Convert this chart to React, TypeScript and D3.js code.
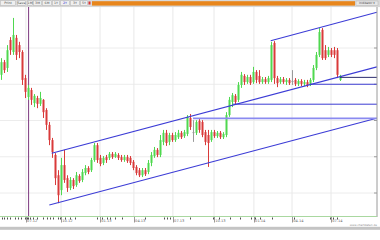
import React from 'react';
import * as d3 from 'd3';

const W = 380;
const H = 240;

// weekly candles (price units)
const open = [52.6,56.1,54.5,62.2,58.9,62.8,60.8,58.9,51.7,46.5,48.4,44.8,46.2,44.6,45.7,42.9,38.8,34.6,30.5,24.9,20.8,27.7,24.1,21.4,23.6,22.2,24.7,23.6,25.5,26.9,26.3,29.1,33.2,29.7,28.3,29.9,29.7,30.8,29.9,30.5,29.9,29.1,29.9,29.7,28.6,27.2,26.3,24.9,26.3,25.8,28.3,30.2,31.9,30.5,34.1,36.6,34.1,36.0,34.6,35.4,36.6,35.7,36.3,40.7,36.8,36.6,39.9,39.6,36.8,36.0,34.6,36.8,35.7,36.6,35.4,36.0,41.5,45.1,46.8,45.7,49.8,52.3,50.6,52.0,50.6,53.4,52.3,50.6,51.4,50.6,51.2,61.4,51.7,50.6,51.4,50.6,51.2,50.9,51.2,50.1,50.9,50.1,50.6,49.8,51.2,54.5,58.1,65.0,59.4,58.1,59.4,59.4,59.4,51.2];
const high = [57.2,56.7,60.8,63.0,68.3,63.6,61.7,59.4,52.6,49.8,49.0,47.3,46.8,47.9,45.9,43.4,39.6,35.2,31.0,26.3,29.7,31.9,24.9,24.4,24.1,25.8,25.2,26.6,27.7,27.4,29.7,33.8,33.8,30.5,30.2,30.5,31.3,31.3,31.3,31.0,30.5,30.5,30.5,30.2,29.1,27.7,26.9,26.9,26.9,29.1,31.3,32.7,32.4,36.0,37.4,37.4,36.6,36.6,36.8,37.4,37.1,37.4,41.5,41.8,40.1,40.1,40.4,40.1,37.4,37.4,37.4,37.4,37.1,37.1,36.8,42.3,46.5,47.6,47.3,50.6,53.4,52.8,52.6,52.6,54.8,53.9,53.9,52.0,52.0,52.3,61.7,61.9,52.3,52.0,52.0,51.7,51.7,53.9,51.7,51.4,51.4,51.2,51.2,51.7,55.3,58.9,65.5,65.5,60.8,60.3,60.0,60.3,60.0,52.6];
const low = [51.2,53.1,53.4,58.1,58.1,56.7,57.2,49.8,46.2,45.7,44.3,43.7,43.4,44.0,40.7,37.4,33.2,29.7,22.2,17.2,19.4,22.8,20.3,20.8,21.1,21.7,22.8,23.0,24.9,25.2,25.8,28.6,28.3,27.4,27.7,28.3,29.1,29.4,29.7,29.1,28.6,28.6,28.3,27.7,26.3,24.9,24.4,24.4,24.7,25.2,27.4,29.7,29.9,29.9,33.2,33.0,33.2,34.1,34.1,34.9,34.9,35.2,35.7,37.4,34.1,36.0,36.6,35.4,33.2,27.2,34.1,35.2,35.2,34.9,34.9,35.4,41.0,43.7,44.3,45.1,49.0,49.8,50.1,49.8,50.1,50.3,50.1,50.1,50.1,50.1,50.6,50.1,49.2,50.1,50.1,49.8,49.8,49.8,49.5,49.5,49.5,49.5,49.2,49.5,50.6,53.9,57.5,56.7,56.7,57.5,57.5,57.2,51.7,50.9];
const close = [56.1,53.9,59.4,59.4,63.6,58.1,58.9,51.2,47.9,49.0,45.7,46.8,44.6,46.2,42.3,38.8,34.6,31.3,24.1,19.4,27.7,23.6,21.4,23.6,21.9,24.9,23.3,25.8,26.9,25.8,29.1,33.2,29.1,28.0,29.7,29.1,30.8,29.9,30.8,29.7,29.1,29.9,28.8,28.3,26.9,25.5,24.9,26.3,25.2,28.3,30.5,31.9,30.5,34.6,36.6,33.8,36.0,34.6,36.0,36.6,35.4,36.8,41.0,38.2,36.8,39.6,37.4,36.0,34.1,33.8,36.8,35.7,36.6,35.4,36.3,41.5,45.7,47.0,45.1,49.8,52.6,50.6,52.0,50.3,53.4,51.2,50.6,51.4,50.6,51.7,60.8,51.7,50.3,51.4,50.6,51.2,50.3,50.9,50.1,50.9,50.1,50.6,49.8,51.2,54.5,58.1,64.4,57.2,57.2,59.4,58.1,58.1,52.6,52.3];
const grayCandles = [64, 97];

const priceGrid = [60, 50, 40, 30, 20];
const quarterIdx = [8.3, 20, 33, 44.3, 57.3, 71, 84.3, 97, 110];
const quarterLabels = ['07.12', '10.12', '01.13', '04.13', '07.13', '10.13', '01.14', '04.14', '07.14'];
const minorTickIdx = [0.2,1,2.1,3,4.7,5.8,6.7,8,8.6,9.1,9.7,10.8,11.9,14.1,15.2,16.3,17.4,19.1,19.7,21.3,23,24.7,31.9,33.6,35.2,36.3,38,40.2,48,54.3,55.3,56.3,63,70.7,72.7,76.3,79.7,83.3,84.7,86.3,90.3,97.7,109.7,110.7,112];
const markerIdx = 9.2;

// trend lines: [startIndex, startPrice, endIndex, endPrice]
const channelLines = [
  [16.9, 30.95, 125.3, 54.8],
  [16.1, 16.7, 125.2, 40.6],
  [89.9, 62.0, 125.3, 69.85],
];
// horizontal levels: [startIndex, price]
const levelStart = [113, 103, 77.3, 64];
const levelPrice = [51.9, 50.0, 44.5, 40.6];
const levelColor = ['#2b2b6e', '#3c3cd2', '#3c3cd2', '#8a8af0'];
const levelWidth = [1, 1, 1, 1.8];

const toolButtons = ['Print', 'Save', '1M', '3M', '6M', '1Y', '2Y', '3Y', '5Y'];
const toolX = [0, 17, 27, 33, 42, 52, 60, 70, 80];
const toolW = [16, 9, 6, 9, 10, 8, 10, 10, 8];

export default function App() {
  const plotL = 0, plotR = 377, plotT = 7, plotB = 216;
  const x = d3.scaleLinear().domain([0, 113]).range([1, 340]);
  const y = d3.scaleLinear().domain([13.66, 71.31]).range([plotB, plotT]);
  const green = '#4fd84f';
  const red = '#d93a3a';
  const gray = '#9a9a9a';
  const bw = 2;

  return (
    <svg width={W} height={H} style={{ position: 'absolute', left: 0, top: 0, background: '#fff' }}
      fontFamily="DejaVu Sans, sans-serif">
      <defs>
        <clipPath id="plot">
          <rect x={plotL} y={plotT} width={plotR - plotL} height={plotB - plotT} />
        </clipPath>
      </defs>
      <rect x={0} y={0} width={W} height={H} fill="#fff" />
      {/* top toolbar */}
      <rect x={0} y={0} width={W} height={6.5} fill="#d9d9d9" />
      {toolButtons.map((b, i) => (
        <g key={b}>
          <rect x={toolX[i] + 0.5} y={0.8} width={toolW[i] - 1} height={4.6} fill="#efefef" stroke="#a8a8a8" strokeWidth={0.4} />
          <text x={toolX[i] + toolW[i] / 2} y={4.3} fontSize={3.2} textAnchor="middle"
            fill={b === '2Y' ? '#2a2ad0' : '#444'}>{b}</text>
        </g>
      ))}
      <rect x={88.5} y={1.5} width={2} height={3} fill="#d33" />
      <rect x={92} y={1.2} width={263} height={4.4} fill="#e8861c" />
      <rect x={356} y={1} width={22} height={4.6} fill="#e6e6e6" stroke="#a8a8a8" strokeWidth={0.4} />
      <text x={367} y={4.3} fontSize={3} textAnchor="middle" fill="#444">Indikator ▾</text>
      <line x1={0} x2={W} y1={6.6} y2={6.6} stroke="#c4c4c4" strokeWidth={0.6} />

      {/* grid */}
      {priceGrid.map(p => (
        <g key={'g' + p}>
          <line x1={plotL} x2={plotR} y1={y(p)} y2={y(p)} stroke="#ececec" strokeWidth={1} />
          <line x1={plotR - 3} x2={plotR} y1={y(p)} y2={y(p)} stroke="#888" strokeWidth={0.8} />
        </g>
      ))}
      {quarterIdx.map(q => (
        <line key={'v' + q} x1={x(q)} x2={x(q)} y1={plotT} y2={plotB} stroke="#e8e8e8" strokeWidth={1} />
      ))}

      {/* marker line */}
      <line x1={x(markerIdx)} x2={x(markerIdx)} y1={plotT} y2={plotB} stroke="#7d3a80" strokeWidth={1} />

      {/* candles */}
      <g clipPath="url(#plot)">
        {close.map((c, i) => {
          const o = open[i];
          const isGray = grayCandles.includes(i);
          const col = isGray ? gray : c >= o ? green : red;
          const cx = Math.round(x(i)) + 0.5;
          const top = y(Math.max(o, c));
          const bot = y(Math.min(o, c));
          return (
            <g key={i}>
              <line x1={cx} x2={cx} y1={y(high[i])} y2={y(low[i])} stroke={col} strokeWidth={1} />
              <rect x={cx - bw / 2} y={top} width={bw} height={Math.max(1, bot - top)} fill={col} />
            </g>
          );
        })}

        {/* trend channels */}
        {channelLines.map((l, i) => (
          <line key={'c' + i} x1={x(l[0])} y1={y(l[1])} x2={x(l[2])} y2={y(l[3])}
            stroke="#3c3cd6" strokeWidth={1.1} />
        ))}
        {levelStart.map((s, i) => (
          <line key={'l' + i} x1={x(s)} x2={plotR} y1={y(levelPrice[i])} y2={y(levelPrice[i])}
            stroke={levelColor[i]} strokeWidth={levelWidth[i]} />
        ))}
      </g>

      {/* frame */}
      <line x1={plotR} x2={plotR} y1={plotT} y2={plotB + 1} stroke="#9a9a9a" strokeWidth={1} />
      <line x1={plotL} x2={plotR} y1={plotB + 0.5} y2={plotB + 0.5} stroke="#a9d8a0" strokeWidth={1} />

      {/* x axis */}
      {minorTickIdx.map((t, i) => (
        <line key={'t' + i} x1={Math.round(x(t)) + 0.5} x2={Math.round(x(t)) + 0.5} y1={217.5} y2={219.5} stroke="#222" strokeWidth={0.8} />
      ))}
      {quarterIdx.map((q, i) => (
        <g key={'q' + i}>
          <line x1={Math.round(x(q)) + 0.5} x2={Math.round(x(q)) + 0.5} y1={217} y2={222.5} stroke="#555" strokeWidth={0.6} />
          <text x={x(q) + 1.2} y={222.3} fontSize={3.6} fill="#666">{quarterLabels[i]}</text>
        </g>
      ))}
      <text x={377} y={225.8} fontSize={2.8} textAnchor="end" fill="#888">www.chartdaten.de</text>
      <rect x={0} y={226.8} width={W} height={3} fill="#c4c4c4" />
    </svg>
  );
}
